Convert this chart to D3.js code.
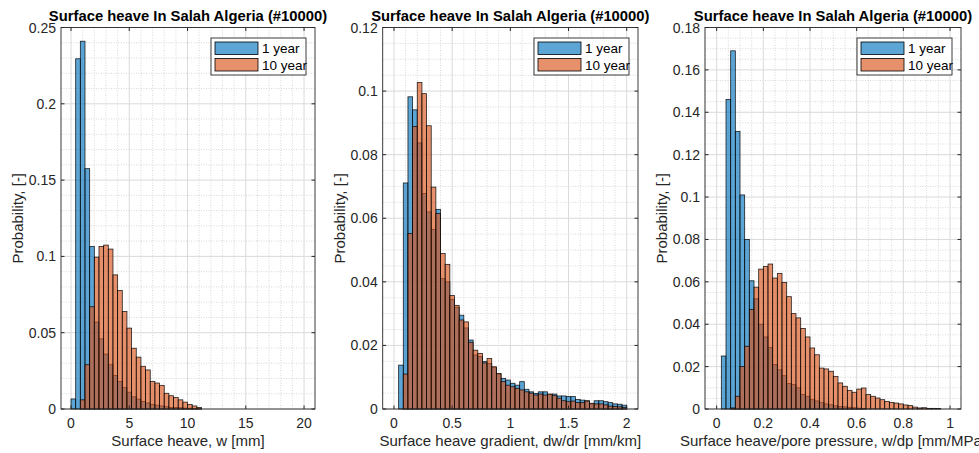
<!DOCTYPE html>
<html>
<head>
<meta charset="utf-8">
<script src="https://cdn.jsdelivr.net/npm/d3@7"></script>
<style>
  body { margin: 0; background: #fff; }
  svg { display: block; font-family: "Liberation Sans", Arial, sans-serif; }
</style>
</head>
<body>
<script>
// 三个直方图：1 year（蓝） / 10 year（橙），概率归一化

const seriesNames = ['1 year', '10 year'];
const titleText = 'Surface heave In Salah Algeria (#10000)';

// 面板1：地表抬升 w [mm]，箱宽 0.4，起点 0
const heaveBinWidth = 0.4;
const heave1yr = [0.0066, 0.2295, 0.241, 0.1575, 0.1065, 0.057, 0.046, 0.036, 0.029, 0.022,
    0.018, 0.014, 0.011, 0.008, 0.0065, 0.005, 0.004, 0.003, 0.0025, 0.002,
    0.0015, 0.001, 0.001, 0.0008, 0.0006, 0.0005, 0.0004, 0.0003];
const heave10yr = [0, 0, 0.006, 0.029, 0.067, 0.0995, 0.1065, 0.1074, 0.1048, 0.0879,
    0.0776, 0.0639, 0.053, 0.0398, 0.034, 0.028, 0.0256, 0.018, 0.017, 0.0155,
    0.0103, 0.0087, 0.0075, 0.006, 0.0045, 0.003, 0.002, 0.001];

// 面板2：抬升梯度 dw/dr [mm/km]，箱宽 0.04
const gradBinWidth = 0.04;
const grad1yr = [0, 0.0138, 0.0711, 0.0982, 0.0941, 0.0837, 0.0678, 0.062, 0.0565, 0.0628,
    0.041, 0.040, 0.0345, 0.032, 0.0295, 0.0255, 0.0217, 0.017, 0.0165, 0.0149,
    0.0143, 0.013, 0.011, 0.0096, 0.0091, 0.0081, 0.0075, 0.0086, 0.0062, 0.0054,
    0.0049, 0.0054, 0.0054, 0.0046, 0.0047, 0.0041, 0.0041, 0.0039, 0.0039, 0.003,
    0.0028, 0.0026, 0.0016, 0.0026, 0.0026, 0.0023, 0.002, 0.0016, 0.0015, 0.0012];
const grad10yr = [0, 0, 0.011, 0.0552, 0.0889, 0.1027, 0.0992, 0.0891, 0.0698, 0.0615,
    0.0489, 0.0455, 0.0357, 0.0326, 0.028, 0.0274, 0.021, 0.0185, 0.0175, 0.0145,
    0.0159, 0.0133, 0.0112, 0.0086, 0.0075, 0.007, 0.0065, 0.006, 0.0054, 0.005,
    0.0044, 0.0047, 0.0044, 0.0047, 0.0042, 0.0034, 0.0026, 0.0023, 0.0025, 0.002,
    0.002, 0.0025, 0.0018, 0.0016, 0.0016, 0.0013, 0.0009, 0.0008, 0.0007, 0.0005];

// 面板3：抬升/孔压 w/dp [mm/MPa]，箱宽 0.02
const ratioBinWidth = 0.02;
const ratio1yr = [0, 0.025, 0.146, 0.169, 0.131, 0.101, 0.080, 0.0605, 0.052, 0.040,
    0.034, 0.029, 0.021, 0.0185, 0.0157, 0.012, 0.0115, 0.010, 0.0068, 0.006,
    0.0044, 0.0038, 0.003, 0.0024, 0.002, 0.0015, 0.0012, 0.001, 0.0008, 0.0006,
    0.0004, 0.0003];
const ratio10yr = [0, 0, 0, 0.0005, 0.006, 0.020, 0.0296, 0.047, 0.0575, 0.066,
    0.0673, 0.0684, 0.0618, 0.064, 0.0597, 0.053, 0.045, 0.043, 0.038, 0.034,
    0.0288, 0.0256, 0.0193, 0.0189, 0.0178, 0.0154, 0.0123, 0.0107, 0.0088, 0.0079,
    0.0094, 0.0099, 0.0068, 0.006, 0.0052, 0.0044, 0.0036, 0.0031, 0.0028, 0.0024,
    0.0019, 0.0016, 0.0009, 0.0005, 0.0006, 0.0003, 0.0003, 0.0002];

// 刻度
const heaveXTicks = [0, 5, 10, 15, 20];
const heaveYTicks = [0, 0.05, 0.1, 0.15, 0.2, 0.25];
const gradXTicks = [0, 0.5, 1, 1.5, 2];
const gradYTicks = [0, 0.02, 0.04, 0.06, 0.08, 0.1, 0.12];
const ratioXTicks = [0, 0.2, 0.4, 0.6, 0.8, 1];
const ratioYTicks = [0, 0.02, 0.04, 0.06, 0.08, 0.1, 0.12, 0.14, 0.16, 0.18];

// 画布
const width = 979;
const height = 453;
const plotTop = 27.5, plotBottom = 409;
const colors = ['#0072bd', '#d95319'];
const faceAlpha = 0.64;
const axisColor = '#262626';

const svg = d3.select('body').append('svg')
    .attr('width', width)
    .attr('height', height);

const panels = [
    { left: 61, right: 315, xDomain: [-0.86, 20.94], yMax: 0.25, bw: heaveBinWidth,
      series: [heave1yr, heave10yr], xTicks: heaveXTicks, yTicks: heaveYTicks,
      xMinor: 1, yMinor: 0.01, xLabel: 'Surface heave, w [mm]', yLabelX: 23 },
    { left: 382.7, right: 638, xDomain: [-0.097, 2.097], yMax: 0.12, bw: gradBinWidth,
      series: [grad1yr, grad10yr], xTicks: gradXTicks, yTicks: gradYTicks,
      xMinor: 0.1, yMinor: 0.005, xLabel: 'Surface heave gradient, dw/dr [mm/km]', yLabelX: 345 },
    { left: 705, right: 961, xDomain: [-0.05, 1.047], yMax: 0.18, bw: ratioBinWidth,
      series: [ratio1yr, ratio10yr], xTicks: ratioXTicks, yTicks: ratioYTicks,
      xMinor: 0.05, yMinor: 0.005, xLabel: 'Surface heave/pore pressure, w/dp [mm/MPa]', yLabelX: 667 }
];

function near(a, list, eps) {
    return list.some(t => Math.abs(t - a) < eps);
}

function draw_panel(p) {
    const x = d3.scaleLinear().domain(p.xDomain).range([p.left, p.right]);
    const y = d3.scaleLinear().domain([0, p.yMax]).range([plotBottom, plotTop]);
    const g = svg.append('g');

    // 次网格（虚线）
    const xMinorTicks = d3.range(Math.ceil(p.xDomain[0] / p.xMinor), Math.floor(p.xDomain[1] / p.xMinor) + 1)
        .map(i => i * p.xMinor)
        .filter(v => !near(v, p.xTicks, p.xMinor / 10));
    const yMinorTicks = d3.range(1, Math.round(p.yMax / p.yMinor))
        .map(i => i * p.yMinor)
        .filter(v => !near(v, p.yTicks, p.yMinor / 10));
    g.append('g').selectAll('line').data(xMinorTicks).enter().append('line')
        .attr('x1', d => x(d)).attr('x2', d => x(d)).attr('y1', plotTop).attr('y2', plotBottom)
        .attr('stroke', '#cfcfcf').attr('stroke-width', 0.8).attr('stroke-dasharray', '1,1.5');
    g.append('g').selectAll('line').data(yMinorTicks).enter().append('line')
        .attr('x1', p.left).attr('x2', p.right).attr('y1', d => y(d)).attr('y2', d => y(d))
        .attr('stroke', '#cfcfcf').attr('stroke-width', 0.8).attr('stroke-dasharray', '1,1.5');

    // 主网格
    g.append('g').selectAll('line').data(p.xTicks).enter().append('line')
        .attr('x1', d => x(d)).attr('x2', d => x(d)).attr('y1', plotTop).attr('y2', plotBottom)
        .attr('stroke', '#dadada').attr('stroke-width', 1);
    g.append('g').selectAll('line').data(p.yTicks).enter().append('line')
        .attr('x1', p.left).attr('x2', p.right).attr('y1', d => y(d)).attr('y2', d => y(d))
        .attr('stroke', '#dadada').attr('stroke-width', 1);

    // 直方图
    p.series.forEach((vals, si) => {
        const bins = vals.map((v, i) => ({ x0: i * p.bw, x1: (i + 1) * p.bw, v: v }))
            .filter(d => d.v > 0);
        g.append('g').selectAll('rect').data(bins).enter().append('rect')
            .attr('x', d => x(d.x0))
            .attr('y', d => y(d.v))
            .attr('width', d => x(d.x1) - x(d.x0))
            .attr('height', d => y(0) - y(d.v))
            .attr('fill', colors[si])
            .attr('fill-opacity', faceAlpha)
            .attr('stroke', '#000')
            .attr('stroke-opacity', 0.85)
            .attr('stroke-width', 0.8);
    });

    // 坐标框与刻度
    g.append('rect')
        .attr('x', p.left).attr('y', plotTop)
        .attr('width', p.right - p.left).attr('height', plotBottom - plotTop)
        .attr('fill', 'none').attr('stroke', axisColor).attr('stroke-width', 0.9);
    const tl = 3.5;
    p.xTicks.forEach(t => {
        g.append('line').attr('x1', x(t)).attr('x2', x(t)).attr('y1', plotBottom).attr('y2', plotBottom - tl)
            .attr('stroke', axisColor);
        g.append('line').attr('x1', x(t)).attr('x2', x(t)).attr('y1', plotTop).attr('y2', plotTop + tl)
            .attr('stroke', axisColor);
    });
    p.yTicks.forEach(t => {
        g.append('line').attr('x1', p.left).attr('x2', p.left + tl).attr('y1', y(t)).attr('y2', y(t))
            .attr('stroke', axisColor);
        g.append('line').attr('x1', p.right).attr('x2', p.right - tl).attr('y1', y(t)).attr('y2', y(t))
            .attr('stroke', axisColor);
    });

    // 刻度文字
    g.append('g').selectAll('text').data(p.xTicks).enter().append('text')
        .attr('x', d => x(d)).attr('y', 428)
        .attr('text-anchor', 'middle')
        .attr('font-size', 14).attr('fill', axisColor)
        .text(d => String(d));
    g.append('g').selectAll('text').data(p.yTicks).enter().append('text')
        .attr('x', p.left - 5).attr('y', d => y(d) + 5)
        .attr('text-anchor', 'end')
        .attr('font-size', 14).attr('fill', axisColor)
        .text(d => String(d));

    // 轴标题
    const cx = (p.left + p.right) / 2;
    g.append('text').attr('x', cx).attr('y', 446)
        .attr('text-anchor', 'middle').attr('font-size', 15).attr('fill', axisColor)
        .text(p.xLabel);
    g.append('text')
        .attr('transform', `translate(${p.yLabelX},${(plotTop + plotBottom) / 2}) rotate(-90)`)
        .attr('text-anchor', 'middle').attr('font-size', 15).attr('fill', axisColor)
        .text('Probability, [-]');
    g.append('text').attr('x', cx).attr('y', 21)
        .attr('text-anchor', 'middle').attr('font-size', 14.8).attr('font-weight', 'bold')
        .attr('fill', '#000')
        .text(titleText);

    // 图例
    const lx = p.right - 104, ly = plotTop + 10.5;
    const lg = g.append('g').attr('transform', `translate(${lx},${ly})`);
    lg.append('rect').attr('width', 95).attr('height', 37)
        .attr('fill', '#fff').attr('stroke', axisColor).attr('stroke-width', 0.9);
    seriesNames.forEach((name, i) => {
        lg.append('rect').attr('x', 4).attr('y', 4 + i * 16.5).attr('width', 43).attr('height', 12.5)
            .attr('fill', colors[i]).attr('fill-opacity', faceAlpha)
            .attr('stroke', '#000').attr('stroke-width', 0.8);
        lg.append('text').attr('x', 51).attr('y', 15 + i * 16.5)
            .attr('font-size', 13.5).attr('fill', '#000')
            .text(name);
    });
}

panels.forEach(draw_panel);
</script>
</body>
</html>
